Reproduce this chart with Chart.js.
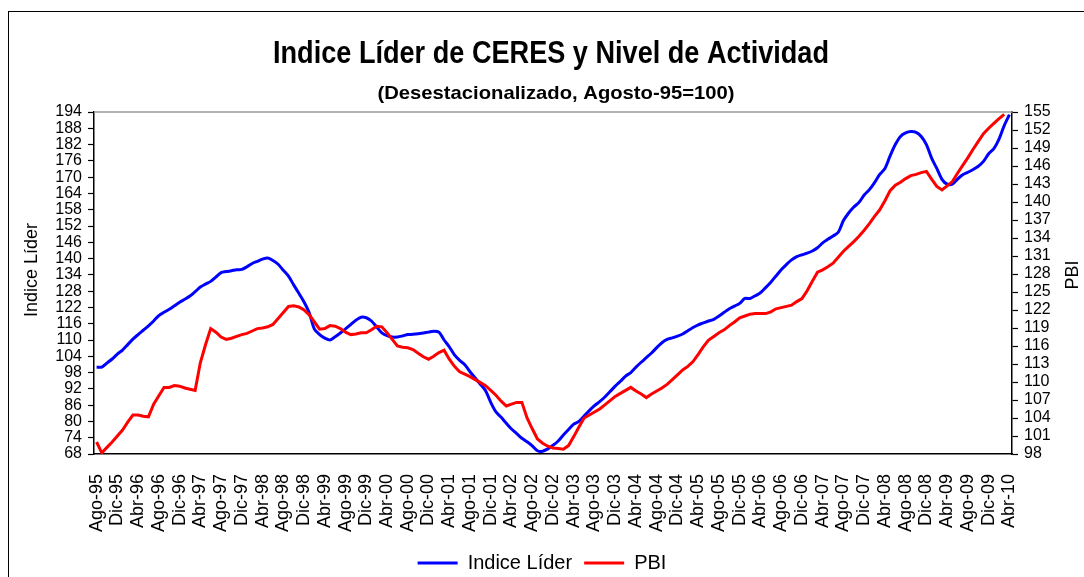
<!DOCTYPE html>
<html lang="es">
<head>
<meta charset="utf-8">
<title>Indice Líder de CERES y Nivel de Actividad</title>
<script src="https://cdn.jsdelivr.net/npm/chart.js@4.4.1/dist/chart.umd.min.js"></script>
<style>
  html, body { margin: 0; padding: 0; background: #fff; }
  #grafico-wrap { position: relative; width: 1084px; height: 577px; }
</style>
</head>
<body>
<div id="grafico-wrap"><canvas id="grafico"></canvas></div>
<script>
/* Indice Líder de CERES vs PBI, mensual Ago-95 a Abr-10 */

// meses (rótulos del eje X se arman con esto)
const MESES = ['Ene', 'Feb', 'Mar', 'Abr', 'May', 'Jun', 'Jul', 'Ago', 'Sep', 'Oct', 'Nov', 'Dic'];
const MES_INICIAL = 7;      // Agosto
const ANIO_INICIAL = 1995;
const CANT_MESES = 177;     // Ago-95 .. Abr-10

// Indice Líder (eje izquierdo)
const INDICE_LIDER = [
  100, 100, 101.5, 103, 104.8, 106.3, 108.3, 110.3, 112, 113.6,          // Ago-95 ..
  115.2, 117, 119, 120.2, 121.3, 122.6, 123.9, 125, 126.2, 127.8,
  129.5, 130.6, 131.6, 133.2, 134.8, 135.2, 135.5, 135.9, 136, 137,
  138.2, 139, 139.8, 140.2, 139.3, 137.9, 135.7, 133.5, 130.3, 127.2,
  124, 120, 114, 112, 110.7, 110, 111.2, 112.6, 114.1, 115.7,
  117.3, 118.4, 118.2, 117, 114.8, 112.6, 111.6, 111.1, 111.1, 111.5,
  112, 112.1, 112.3, 112.6, 112.9, 113.2, 112.9, 110, 107.5, 104.5,
  102.5, 100.9, 98.3, 96, 93.7, 91.3, 87, 83.5, 81.5, 79.3,
  77.2, 75.5, 73.8, 72.5, 71, 69.2, 69, 69.9, 71.2, 72.8,
  75, 77, 79, 80, 82, 84, 85.8, 87.3, 89, 91,
  93, 94.8, 96.7, 98, 100, 101.8, 103.5, 105.2, 107.2, 109,
  110.2, 110.8, 111.4, 112.2, 113.4, 114.6, 115.6, 116.3, 117, 117.6,
  118.8, 120.2, 121.5, 122.5, 123.5, 125.3, 125.3, 126.3, 127.4, 129.3,
  131.3, 133.6, 135.9, 137.8, 139.5, 140.7, 141.4, 142, 142.8, 144,
  145.8, 147.1, 148.3, 149.7, 154, 156.8, 159, 160.7, 163.4, 165.4,
  168, 171, 173.2, 177.8, 182, 185, 186.3, 186.8, 186.5, 185,
  182, 177, 173.2, 169.2, 167.4, 167.4, 169.3, 170.9, 171.8, 172.8,
  174, 175.8, 178.6, 180.5, 184, 189, 193
];

// PBI (eje derecho) - sin dato en el último mes
const PBI = [
  100, 98.2, 99.1, 100, 101, 102, 103.3, 104.5, 104.5, 104.3,
  104.2, 106.3, 107.7, 109.1, 109.1, 109.4, 109.3, 109, 108.8, 108.6,
  113.2, 116.2, 118.9, 118.3, 117.5, 117.1, 117.3, 117.6, 117.9, 118.1,
  118.5, 118.9, 119, 119.2, 119.6, 120.6, 121.6, 122.6, 122.7, 122.5,
  122, 121.2, 120, 118.8, 118.9, 119.4, 119.3, 118.9, 118.3, 117.9,
  118, 118.2, 118.2, 118.7, 119.3, 119.2, 118.2, 117.1, 116, 115.8,
  115.7, 115.4, 114.8, 114.2, 113.8, 114.3, 114.9, 115.3, 113.8, 112.6,
  111.7, 111.3, 110.9, 110.4, 109.9, 109.4, 108.6, 107.8, 106.8, 106,
  106.3, 106.6, 106.6, 104, 102.2, 100.5, 99.8, 99.3, 99, 98.9,
  98.8, 99.4, 100.9, 102.5, 104, 104.5, 105, 105.5, 106.2, 106.9,
  107.6, 108.1, 108.6, 109.1, 108.5, 108, 107.4, 108, 108.5, 109,
  109.6, 110.4, 111.2, 112, 112.6, 113.4, 114.6, 115.9, 117, 117.6,
  118.2, 118.7, 119.4, 120, 120.7, 121, 121.3, 121.4, 121.4, 121.4,
  121.7, 122.2, 122.4, 122.6, 122.8, 123.4, 123.9, 125.2, 126.8, 128.3,
  128.7, 129.2, 129.8, 130.8, 131.8, 132.6, 133.4, 134.3, 135.3, 136.4,
  137.6, 138.7, 140.2, 141.9, 142.8, 143.3, 143.9, 144.4, 144.6, 144.9,
  145.1, 143.8, 142.6, 142, 142.7, 143.4, 144.8, 146.1, 147.4, 148.8,
  150.1, 151.4, 152.3, 153.1, 153.9, 154.6, null
];

// escalas
const EJE_IZQ = { min: 68, max: 194, paso: 6 };
const EJE_DER = { min: 98, max: 155, paso: 3 };

const TITULO = 'Indice Líder de CERES y Nivel de Actividad';
const SUBTITULO = '(Desestacionalizado, Agosto-95=100)';

const FONTE = "'Liberation Sans', Arial, sans-serif";
const AZUL = '#0000FF';
const ROJO = '#FF0000';

const rotulos = [];
for (let n = 0; n < CANT_MESES; n++) {
  const m = (MES_INICIAL + n) % 12;
  const a = ANIO_INICIAL + Math.floor((MES_INICIAL + n) / 12);
  rotulos.push(MESES[m] + '-' + String(a % 100).padStart(2, '0'));
}

// texto centrado, comprimido en horizontal hasta un ancho dado
function textoComprimido(ctx, texto, x, y, fonte, ancho) {
  ctx.font = fonte;
  const esc = ancho ? ancho / ctx.measureText(texto).width : 1;
  ctx.save();
  ctx.translate(x, y);
  ctx.scale(esc, 1);
  ctx.textAlign = 'center';
  ctx.textBaseline = 'alphabetic';
  ctx.fillText(texto, 0, 0);
  ctx.restore();
}

function textoVertical(ctx, texto, x, y, fonte) {
  ctx.save();
  ctx.translate(x, y);
  ctx.rotate(-Math.PI / 2);
  ctx.font = fonte;
  ctx.textAlign = 'center';
  ctx.textBaseline = 'middle';
  ctx.fillText(texto, 0, 0);
  ctx.restore();
}

const textosPlugin = {
  id: 'textos',
  beforeDraw: function (chart) {
    const ctx = chart.ctx;
    ctx.save();
    ctx.strokeStyle = '#000';
    ctx.lineWidth = 1;
    ctx.strokeRect(8.5, 11.5, 1300, 800);   // marco exterior (cortado)
    ctx.restore();
  },
  afterDraw: function (chart) {
    const ctx = chart.ctx;
    const area = chart.chartArea;
    ctx.save();
    // borde superior del área de trazado
    ctx.strokeStyle = '#9A9A9A';
    ctx.lineWidth = 1.5;
    ctx.beginPath();
    ctx.moveTo(area.left, area.top);
    ctx.lineTo(area.right, area.top);
    ctx.stroke();

    ctx.fillStyle = '#000';
    textoComprimido(ctx, TITULO, 551, 63, 'bold 32px ' + FONTE, 556);
    textoComprimido(ctx, SUBTITULO, 556, 99, 'bold 19px ' + FONTE, 357);
    textoVertical(ctx, 'Indice Líder', 32, 270, '18px ' + FONTE);
    textoVertical(ctx, 'PBI', 1073, 275, '18px ' + FONTE);
    ctx.restore();
  }
};

function ejeY(cfg, ancho) {
  return {
    min: cfg.min, max: cfg.max,
    ticks: {
      stepSize: cfg.paso, autoSkip: false, padding: 6, color: '#000',
      font: { family: FONTE, size: 16 }
    },
    grid: { drawOnChartArea: false, drawTicks: true, tickLength: 6, tickColor: '#000', tickWidth: 1.2 },
    border: { display: true, color: '#000', width: 1.5 },
    afterFit: function (scale) { scale.width = ancho; }
  };
}

Chart.defaults.font.family = FONTE;

const escY = ejeY(EJE_IZQ, 94);
escY.position = 'left';
const escY2 = ejeY(EJE_DER, 72);
escY2.position = 'right';

new Chart(document.getElementById('grafico'), {
  type: 'line',
  data: {
    labels: rotulos,
    datasets: [
      {
        label: 'Indice Líder', data: INDICE_LIDER, yAxisID: 'y',
        borderColor: AZUL, backgroundColor: AZUL, borderWidth: 3,
        pointRadius: 0, tension: 0.3, order: 1
      },
      {
        label: 'PBI', data: PBI, yAxisID: 'y2',
        borderColor: ROJO, backgroundColor: ROJO, borderWidth: 3,
        pointRadius: 0, tension: 0, order: 0
      }
    ]
  },
  options: {
    responsive: true, maintainAspectRatio: false, animation: false,
    layout: { padding: { top: 112, left: 0, right: 0, bottom: -6 } },
    plugins: {
      title: { display: false },
      legend: {
        position: 'bottom',
        labels: {
          usePointStyle: true, pointStyle: 'line', pointStyleWidth: 40, boxHeight: 20,
          padding: 12, color: '#000', font: { family: FONTE, size: 20 },
          sort: function (a, b) { return a.datasetIndex - b.datasetIndex; }
        }
      }
    },
    scales: {
      x: {
        offset: true,
        grid: { display: false },
        border: { display: true, color: '#000', width: 1.5 },
        ticks: {
          autoSkip: false, maxRotation: 90, minRotation: 90, padding: 12, color: '#000',
          font: { family: FONTE, size: 18 },
          callback: function (v, i) { return i % 4 === 0 ? this.getLabelForValue(v) : ''; }
        },
        afterFit: function (scale) { scale.height = 87; }
      },
      y: escY,
      y2: escY2
    }
  },
  plugins: [textosPlugin]
});
</script>
</body>
</html>
